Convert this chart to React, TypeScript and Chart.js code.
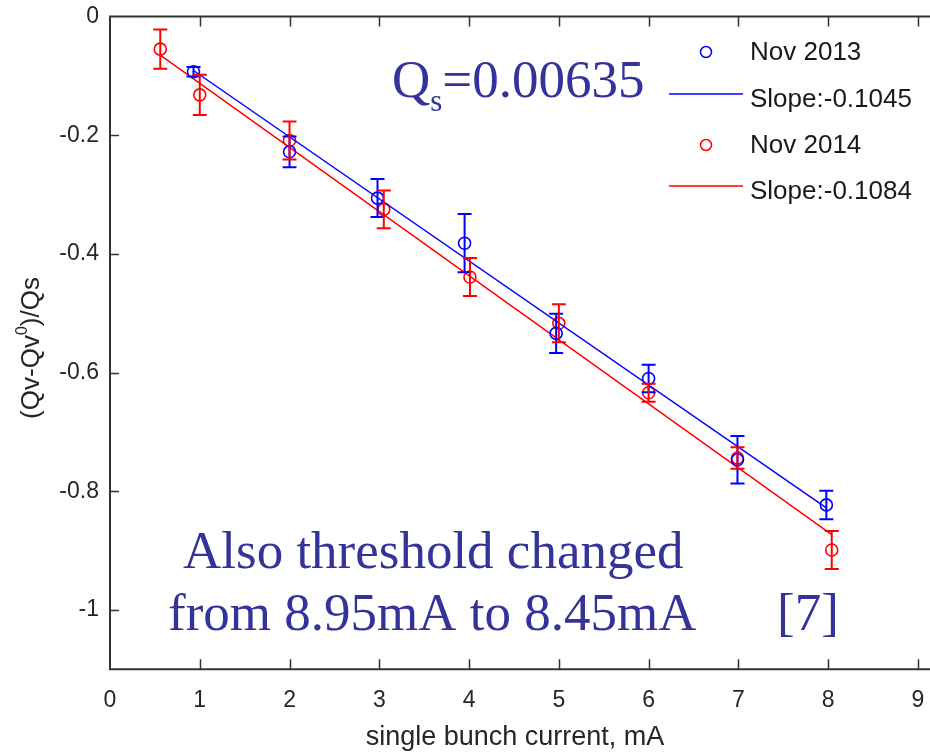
import React, { useEffect, useRef } from "react";
import { Chart, registerables } from "chart.js";

Chart.register(...registerables);

// Axis ticks
const xTicks = [0, 1, 2, 3, 4, 5, 6, 7, 8, 9];
const yTicks = [0, -0.2, -0.4, -0.6, -0.8, -1];

// Nov 2013 measurements: current (mA), normalised tune shift, error
const nov2013X = [0.93, 2.0, 2.98, 3.95, 4.97, 6.0, 6.99, 7.98];
const nov2013Y = [-0.093, -0.228, -0.306, -0.382, -0.534, -0.61, -0.747, -0.823];
const nov2013Err = [0.008, 0.026, 0.032, 0.049, 0.033, 0.023, 0.04, 0.024];

// Nov 2014 measurements
const nov2014X = [0.56, 1.0, 2.0, 3.05, 4.01, 5.0, 6.0, 6.99, 8.04];
const nov2014Y = [-0.055, -0.132, -0.209, -0.325, -0.439, -0.517, -0.634, -0.744, -0.899];
const nov2014Err = [0.033, 0.034, 0.032, 0.032, 0.032, 0.032, 0.015, 0.018, 0.032];

// Linear fit end points
const fit2013X = [0.93, 7.98];
const fit2013Y = [-0.091, -0.828];
const fit2014X = [0.56, 8.04];
const fit2014Y = [-0.065, -0.873];

const seriesLabels = ["Nov 2013", "Slope:-0.1045", "Nov 2014", "Slope:-0.1084"];

const BLUE = "#0000ff";
const RED = "#ff0000";
const NAVY = "#333399";
const INK = "#262626";
const SANS = "'Liberation Sans', Arial, sans-serif";
const SERIF = "'Liberation Serif', 'Times New Roman', serif";

const toPoints = (xs: number[], ys: number[]) => xs.map((x, i) => ({ x, y: ys[i] }));

const errorsByDataset: Record<number, number[]> = { 0: nov2013Err, 2: nov2014Err };

const errorBarPlugin = {
  id: "errorBars",
  afterDatasetsDraw(chart: any) {
    const ctx = chart.ctx;
    const xs = chart.scales.x;
    const ys = chart.scales.y;
    Object.keys(errorsByDataset).forEach((k) => {
      const idx = Number(k);
      const ds = chart.data.datasets[idx];
      const errs = errorsByDataset[idx];
      ctx.save();
      ctx.strokeStyle = ds.borderColor;
      ctx.lineWidth = 2;
      ds.data.forEach((p: any, i: number) => {
        const px = xs.getPixelForValue(p.x);
        const top = ys.getPixelForValue(p.y + errs[i]);
        const bot = ys.getPixelForValue(p.y - errs[i]);
        const cap = 7;
        ctx.beginPath();
        ctx.moveTo(px, top);
        ctx.lineTo(px, bot);
        ctx.moveTo(px - cap, top);
        ctx.lineTo(px + cap, top);
        ctx.moveTo(px - cap, bot);
        ctx.lineTo(px + cap, bot);
        ctx.stroke();
      });
      ctx.restore();
    });
  },
};

const framePlugin = {
  id: "frame",
  afterDraw(chart: any) {
    const ctx = chart.ctx;
    const { left, top, bottom } = chart.chartArea;
    const edge = chart.width;
    const xs = chart.scales.x;
    const ys = chart.scales.y;
    ctx.save();
    ctx.strokeStyle = "#333333";
    ctx.lineWidth = 2;
    ctx.beginPath();
    ctx.moveTo(edge, top);
    ctx.lineTo(left, top);
    ctx.lineTo(left, bottom);
    ctx.lineTo(edge, bottom);
    ctx.stroke();
    ctx.lineWidth = 1.5;
    ctx.beginPath();
    xTicks.forEach((v) => {
      const px = Math.round(xs.getPixelForValue(v)) + 0.5;
      if (v === 0) return;
      ctx.moveTo(px, bottom);
      ctx.lineTo(px, bottom - 10);
      ctx.moveTo(px, top);
      ctx.lineTo(px, top + 10);
    });
    yTicks.forEach((v) => {
      const py = Math.round(ys.getPixelForValue(v)) + 0.5;
      if (v === 0) return;
      ctx.moveTo(left, py);
      ctx.lineTo(left + 9, py);
    });
    ctx.stroke();
    ctx.restore();
  },
};

const legendPlugin = {
  id: "sideLegend",
  afterDraw(chart: any) {
    const ctx = chart.ctx;
    const rows = [53, 100, 146, 192];
    ctx.save();
    ctx.font = `26px ${SANS}`;
    ctx.textBaseline = "middle";
    ctx.textAlign = "left";
    chart.data.datasets.forEach((ds: any, i: number) => {
      const y = rows[i];
      ctx.strokeStyle = ds.borderColor;
      ctx.lineWidth = 1.5;
      ctx.beginPath();
      if (ds.showLine) {
        ctx.moveTo(669, y - 6);
        ctx.lineTo(743, y - 6);
      } else {
        ctx.arc(706, y - 1, 5.5, 0, Math.PI * 2);
      }
      ctx.stroke();
      ctx.fillStyle = "#1a1a1a";
      ctx.fillText(ds.label, 750, y);
    });
    ctx.restore();
  },
};

const notesPlugin = {
  id: "notes",
  afterDraw(chart: any) {
    const ctx = chart.ctx;
    ctx.save();
    ctx.fillStyle = NAVY;
    ctx.textBaseline = "alphabetic";
    ctx.textAlign = "left";
    const big = `53px ${SERIF}`;
    const small = `31px ${SERIF}`;
    // Q_s = 0.00635
    let x = 392;
    ctx.font = big;
    ctx.fillText("Q", x, 97);
    x += ctx.measureText("Q").width;
    ctx.font = small;
    ctx.fillText("s", x, 111);
    x += ctx.measureText("s").width;
    ctx.font = big;
    ctx.fillText("=0.00635", x, 97);
    // threshold note
    ctx.fillText("Also threshold changed", 183, 568);
    ctx.fillText("from 8.95mA to 8.45mA", 168, 630);
    ctx.fillText("[7]", 777, 630);

    // axis titles
    ctx.fillStyle = INK;
    ctx.font = `27px ${SANS}`;
    ctx.textAlign = "center";
    ctx.textBaseline = "middle";
    ctx.fillText("single bunch current, mA", 515, 738);

    const main = `26px ${SANS}`;
    const sup = `16px ${SANS}`;
    const partA = "(Qv-Qv";
    const partB = "0";
    const partC = ")/Qs";
    ctx.font = main;
    const wA = ctx.measureText(partA).width;
    const wC = ctx.measureText(partC).width;
    ctx.font = sup;
    const wB = ctx.measureText(partB).width;
    const total = wA + wB + wC;
    ctx.translate(30, 348);
    ctx.rotate(-Math.PI / 2);
    ctx.textAlign = "left";
    ctx.textBaseline = "alphabetic";
    let sx = -total / 2;
    ctx.font = main;
    ctx.fillText(partA, sx, 9);
    sx += wA;
    ctx.font = sup;
    ctx.fillText(partB, sx, -3);
    sx += wB;
    ctx.font = main;
    ctx.fillText(partC, sx, 9);
    ctx.restore();
  },
};

export default function App() {
  const ref = useRef<HTMLCanvasElement>(null);

  useEffect(() => {
    const canvas = ref.current;
    if (!canvas) return;
    const chart = new Chart(canvas, {
      type: "scatter",
      data: {
        datasets: [
          {
            label: seriesLabels[0],
            data: toPoints(nov2013X, nov2013Y),
            showLine: false,
            borderColor: BLUE,
            backgroundColor: "rgba(0,0,0,0)",
            pointRadius: 6,
            pointBorderWidth: 1.6,
            pointStyle: "circle",
          },
          {
            label: seriesLabels[1],
            data: toPoints(fit2013X, fit2013Y),
            showLine: true,
            borderColor: BLUE,
            borderWidth: 1.5,
            pointRadius: 0,
            fill: false,
          },
          {
            label: seriesLabels[2],
            data: toPoints(nov2014X, nov2014Y),
            showLine: false,
            borderColor: RED,
            backgroundColor: "rgba(0,0,0,0)",
            pointRadius: 6,
            pointBorderWidth: 1.6,
            pointStyle: "circle",
          },
          {
            label: seriesLabels[3],
            data: toPoints(fit2014X, fit2014Y),
            showLine: true,
            borderColor: RED,
            borderWidth: 1.5,
            pointRadius: 0,
            fill: false,
          },
        ],
      },
      options: {
        responsive: false,
        animation: false,
        layout: { padding: { top: 16.5, right: 0, left: 0, bottom: 0 } },
        plugins: {
          legend: { display: false },
          tooltip: { enabled: false },
        },
        scales: {
          x: {
            type: "linear",
            min: 0,
            max: 9.05,
            afterBuildTicks: (s: any) => {
              s.ticks = xTicks.map((v) => ({ value: v }));
            },
            afterFit: (s: any) => {
              s.height = 82.7;
              s.paddingLeft = 0;
              s.paddingRight = 0;
            },
            grid: { display: false },
            border: { display: false },
            ticks: {
              padding: 10,
              color: INK,
              font: { family: SANS, size: 23 },
              callback: (v: any) => String(v),
            },
          },
          y: {
            type: "linear",
            min: -1.1,
            max: 0,
            afterBuildTicks: (s: any) => {
              s.ticks = yTicks.map((v) => ({ value: v }));
            },
            afterFit: (s: any) => {
              s.width = 110;
              s.paddingTop = 0;
              s.paddingBottom = 0;
            },
            grid: { display: false },
            border: { display: false },
            ticks: {
              padding: 3,
              color: INK,
              font: { family: SANS, size: 23 },
              callback: (v: any) => String(v),
            },
          },
        },
      },
      plugins: [errorBarPlugin, framePlugin, legendPlugin, notesPlugin],
    });
    return () => chart.destroy();
  }, []);

  return (
    <div style={{ position: "absolute", left: 0, top: 0, width: 930, height: 752, background: "#ffffff", overflow: "hidden" }}>
      <canvas ref={ref} width={930} height={752} style={{ display: "block" }} />
    </div>
  );
}
